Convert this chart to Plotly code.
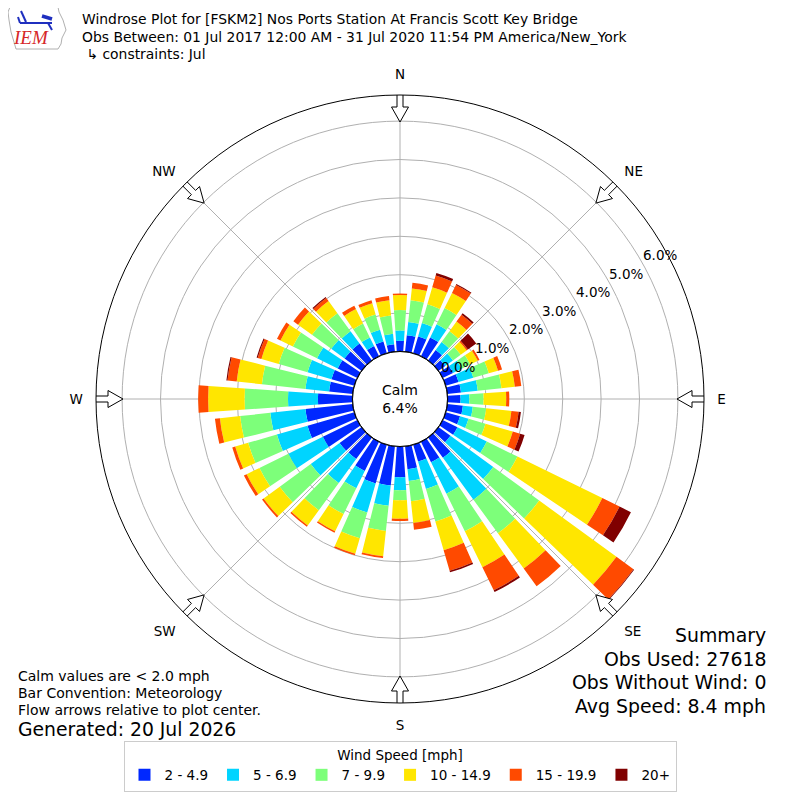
import math
import plotly.graph_objects as go

# ---------------- data ----------------
directions = [0, 10, 20, 30, 40, 50, 60, 70, 80, 90, 100, 110, 120, 130, 140, 150, 160, 170,
              180, 190, 200, 210, 220, 230, 240, 250, 260, 270, 280, 290, 300, 310, 320, 330, 340, 350]

speed_labels = ["2 - 4.9", "5 - 6.9", "7 - 9.9", "10 - 14.9", "15 - 19.9", "20+"]
speed_colors = ["#0028ff", "#00d4ff", "#7dff7a", "#ffe600", "#ff4a00", "#800000"]

pct_2_5 = [0.28, 0.43, 0.46, 0.55, 0.34, 0.22, 0.30, 0.35, 0.36, 0.34, 0.41, 0.39,
           0.43, 0.39, 0.66, 0.60, 0.46, 0.60, 0.80, 1.03, 1.05, 0.85, 0.70, 0.71,
           1.00, 1.27, 1.24, 0.90, 0.62, 0.62, 0.57, 0.55, 0.55, 0.30, 0.32, 0.20]
pct_5_7 = [0.27, 0.35, 0.36, 0.38, 0.26, 0.25, 0.25, 0.40, 0.44, 0.23, 0.26, 0.23,
           0.85, 1.38, 1.35, 0.91, 0.74, 0.31, 0.34, 0.53, 0.79, 0.50, 0.77, 0.93,
           1.00, 0.83, 0.92, 0.78, 0.62, 0.65, 0.60, 0.43, 0.40, 0.25, 0.32, 0.27]
pct_7_10 = [0.53, 0.57, 0.51, 0.47, 0.35, 0.25, 0.25, 0.42, 0.62, 0.37, 0.35, 0.46,
            0.89, 1.48, 1.08, 1.09, 0.88, 0.53, 0.26, 0.66, 0.70, 0.75, 0.88, 1.00,
            0.84, 0.78, 0.79, 1.13, 1.14, 0.78, 0.70, 0.62, 0.58, 0.40, 0.41, 0.48]
pct_10_15 = [0.39, 0.31, 0.46, 0.44, 0.31, 0.19, 0.22, 0.25, 0.35, 0.59, 0.66, 0.74,
             2.46, 2.49, 1.14, 1.04, 0.78, 0.57, 0.48, 0.66, 0.42, 0.50, 0.49, 0.52,
             0.37, 0.35, 0.53, 0.95, 0.66, 0.47, 0.36, 0.45, 0.39, 0.42, 0.31, 0.40]
pct_15_20 = [0.04, 0.15, 0.32, 0.23, 0.22, 0.04, 0.05, 0.11, 0.17, 0.08, 0.19, 0.20,
             0.50, 0.55, 0.57, 0.67, 0.56, 0.18, 0.06, 0.05, 0.04, 0.04, 0.04, 0.05,
             0.08, 0.08, 0.13, 0.26, 0.24, 0.10, 0.10, 0.15, 0.10, 0.10, 0.08, 0.11]
pct_20p = [0.00, 0.00, 0.07, 0.03, 0.05, 0.27, 0.00, 0.00, 0.00, 0.00, 0.06, 0.12,
           0.33, 0.02, 0.00, 0.05, 0.04, 0.00, 0.00, 0.00, 0.00, 0.00, 0.00, 0.00,
           0.00, 0.00, 0.00, 0.00, 0.03, 0.03, 0.00, 0.00, 0.03, 0.00, 0.00, 0.00]
speed_series = [pct_2_5, pct_5_7, pct_7_10, pct_10_15, pct_15_20, pct_20p]

ring_values = [0, 1, 2, 3, 4, 5, 6]
ring_labels = ["0.0%", "1.0%", "2.0%", "3.0%", "4.0%", "5.0%", "6.0%"]
compass_angles = [0, 45, 90, 135, 180, 225, 270, 315]
compass_labels = ["N", "NE", "E", "SE", "S", "SW", "W", "NW"]

calm_pct = 6.4
title_lines = ["Windrose Plot for [FSKM2] Nos Ports Station At Francis Scott Key Bridge",
               "Obs Between: 01 Jul 2017 12:00 AM - 31 Jul 2020 11:54 PM America/New_York",
               " \u21b3 constraints: Jul"]
notes_left = ["Calm values are < 2.0 mph", "Bar Convention: Meteorology",
              "Flow arrows relative to plot center."]
generated = "Generated: 20 Jul 2026"
summary_lines = ["Summary", "Obs Used: 27618", "Obs Without Wind: 0", "Avg Speed: 8.4 mph"]

# ---------------- layout geometry ----------------
W = H = 800
OFF = 8                    # page body margin: the figure is drawn 8px in from the corner
CX, CY = 400 - OFF, 399 - OFF
R_OUT = 304
R_HOLE = 47.5
PX_PER_PCT = 38.4
R_MAX = (R_OUT - R_HOLE) / PX_PER_PCT
LABEL_ANGLE = 29.0         # direction of the ring labels (deg, counter-clockwise from east)
LABEL_SHIFT = 0.5          # ring labels sit half a ring outside their circle
FONT = "DejaVu Sans"


def px(x):
    return (x - OFF) / W


def py(y):
    return 1 - (y - OFF) / H


dom_x = [(CX - R_OUT) / W, (CX + R_OUT) / W]
dom_y = [1 - (CY + R_OUT) / H, 1 - (CY - R_OUT) / H]

fig = go.Figure()

for lab, col, vals in zip(speed_labels, speed_colors, speed_series):
    fig.add_trace(go.Barpolar(
        r=vals, theta=directions, width=7.8, name=lab,
        marker=dict(color=col, line=dict(width=0)),
        subplot="polar", hoverinfo="skip"))

# calm circle border
fig.add_trace(go.Scatterpolar(
    r=[0] * 361, theta=list(range(361)), mode="lines",
    line=dict(color="black", width=1.3), showlegend=False,
    subplot="polar", hoverinfo="skip"))


def px_to_r(p):
    return (p - R_HOLE) / PX_PER_PCT


arrow_outline = [  # (distance from centre px, half-width px)
    (R_OUT + 1, -3), (R_OUT - 12, -3), (R_OUT - 12, -8.5), (R_OUT - 27, 0),
    (R_OUT - 12, 8.5), (R_OUT - 12, 3), (R_OUT + 1, 3), (R_OUT + 1, -3)]
for ang in compass_angles:
    rr, tt = [], []
    for a, w in arrow_outline:
        rr.append(px_to_r(math.hypot(a, w)))
        tt.append(ang + math.degrees(math.atan2(w, a)))
    fig.add_trace(go.Scatterpolar(
        r=rr, theta=tt, mode="lines", fill="toself", fillcolor="white",
        line=dict(color="black", width=1), showlegend=False, cliponaxis=False,
        subplot="polar", hoverinfo="skip"))

fig.update_layout(
    width=W, height=H, margin=dict(l=0, r=0, t=0, b=0),
    paper_bgcolor="white", plot_bgcolor="white",
    font=dict(family=FONT, size=13, color="black"),
    polar=dict(
        domain=dict(x=dom_x, y=dom_y), hole=R_HOLE / R_OUT, bgcolor="white",
        barmode="stack",
        radialaxis=dict(range=[0, R_MAX], tickvals=ring_values, showticklabels=False,
                        showline=False, ticks="", gridcolor="#b0b0b0", gridwidth=1),
        angularaxis=dict(rotation=90, direction="clockwise", tickvals=compass_angles,
                         ticktext=compass_labels, showline=True, linecolor="black",
                         linewidth=1, gridcolor="#b0b0b0", ticks="outside", ticklen=10,
                         tickcolor="rgba(0,0,0,0)", tickfont=dict(size=13.5))),
    showlegend=True,
    legend=dict(orientation="h", x=CX / W, xanchor="center", y=py(741),
                yanchor="top", bgcolor="white", bordercolor="#cccccc", borderwidth=1,
                font=dict(size=13.5),
                title=dict(text="Wind Speed [mph]", side="top center", font=dict(size=13.5)),
                traceorder="normal", itemsizing="constant"),
)

ann = []
# ring labels, placed with the same radial scale as the polar axis
for v, lab in zip(ring_values, ring_labels):
    rp = R_HOLE + (v + LABEL_SHIFT) * PX_PER_PCT
    ax_x = CX + rp * math.cos(math.radians(LABEL_ANGLE))
    ax_y = CY - rp * math.sin(math.radians(LABEL_ANGLE))
    ann.append(dict(text=lab, x=ax_x / W, y=1 - ax_y / H, xref="paper", yref="paper",
                    xanchor="center", yanchor="middle", showarrow=False,
                    font=dict(size=13.5)))
ann.append(dict(text="Calm<br>%.1f%%" % calm_pct, x=CX / W, y=1 - CY / H, xref="paper",
                yref="paper", xanchor="center", yanchor="middle", showarrow=False,
                font=dict(size=14), align="center"))
for i, t in enumerate(title_lines):
    ann.append(dict(text=t, x=px(80), y=py(19 + i * 17.5), xref="paper", yref="paper",
                    xanchor="left", yanchor="middle", showarrow=False, font=dict(size=13.9)))
for i, t in enumerate(notes_left):
    ann.append(dict(text=t, x=px(16), y=py(676 + i * 17), xref="paper", yref="paper",
                    xanchor="left", yanchor="middle", showarrow=False, font=dict(size=14)))
ann.append(dict(text=generated, x=px(16), y=py(729), xref="paper", yref="paper",
                xanchor="left", yanchor="middle", showarrow=False, font=dict(size=18.8)))
for i, t in enumerate(summary_lines):
    ann.append(dict(text=t, x=px(768), y=py(635 + i * 23.5), xref="paper", yref="paper",
                    xanchor="right", yanchor="middle", showarrow=False, font=dict(size=18.9)))
# IEM logo (simplified)
ann.append(dict(text="<i>IEM</i>", x=px(31), y=py(38), xref="paper", yref="paper",
                xanchor="center", yanchor="middle", showarrow=False,
                font=dict(size=19, color="#d62728", family="Liberation Serif")))
fig.update_layout(annotations=ann)

logo_pts = [(10, 7), (58, 7), (59, 12), (63, 20), (66, 30), (62, 38), (61, 44), (58, 49),
            (16, 49), (14, 42), (11, 32), (9, 20), (8, 12)]
fig.add_shape(type="path", xref="paper", yref="paper",
              path="M " + " L ".join("%f %f" % (px(a), py(b)) for a, b in logo_pts) + " Z",
              line=dict(color="#b0b0b0", width=1))
logo_lines = [((21, 11), (26, 22), 2), ((20, 23), (52, 23), 2), ((42, 16), (52, 19), 3.5),
              ((48, 23), (52, 30), 2), ((18, 17), (20, 23), 2)]
for (x0, y0), (x1, y1), lw in logo_lines:
    fig.add_shape(type="line", xref="paper", yref="paper", x0=px(x0), y0=py(y0),
                  x1=px(x1), y1=py(y1), line=dict(color="#1f2fbf", width=lw))

fig.write_html("out.html")
